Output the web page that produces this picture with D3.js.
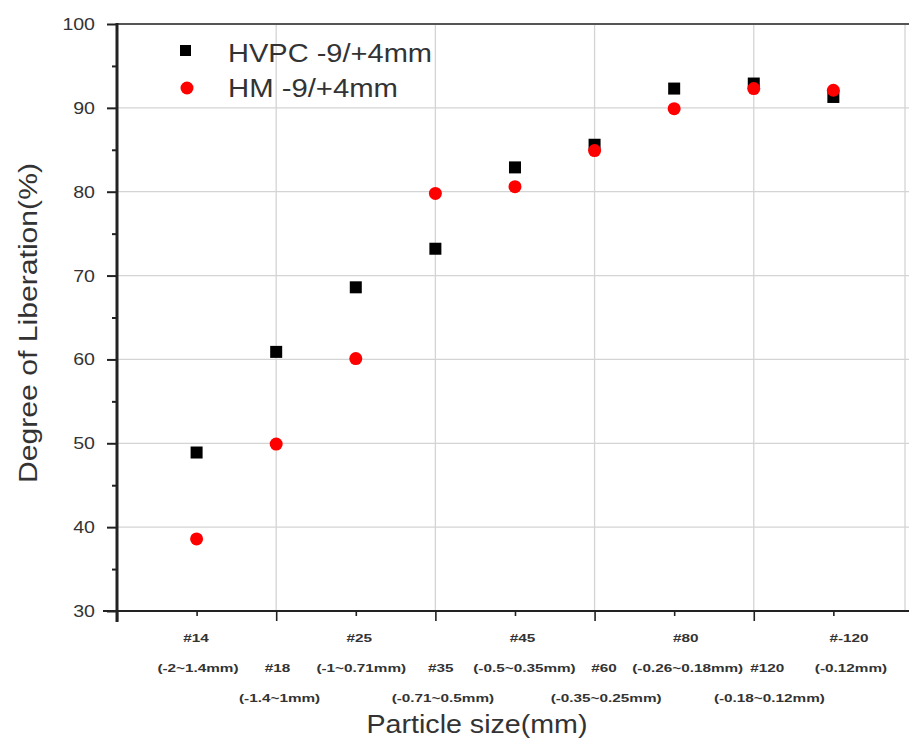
<!DOCTYPE html>
<html>
<head>
<meta charset="utf-8">
<script src="https://cdn.jsdelivr.net/npm/d3@7/dist/d3.min.js"></script>
<style>
  html, body { margin: 0; padding: 0; background: #fff; }
  svg { display: block; }
</style>
</head>
<body>
<svg id="chart" width="909" height="742"></svg>
<script>
// ---- data ----
const categories = ["#14", "#18", "#25", "#35", "#45", "#60", "#80", "#120", "#-120"];
const sizeRanges = ["(-2~1.4mm)", "(-1.4~1mm)", "(-1~0.71mm)", "(-0.71~0.5mm)", "(-0.5~0.35mm)",
                    "(-0.35~0.25mm)", "(-0.26~0.18mm)", "(-0.18~0.12mm)", "(-0.12mm)"];
const hvpc = [48.9, 60.9, 68.6, 73.2, 82.9, 85.6, 92.3, 92.9, 91.3];
const hm   = [38.6, 49.9, 60.1, 79.8, 80.6, 84.9, 89.9, 92.3, 92.1];
const seriesNames = ["HVPC -9/+4mm", "HM -9/+4mm"];
const yMajorTicks = [30, 40, 50, 60, 70, 80, 90, 100];
const yMinorTicks = [35, 45, 55, 65, 75, 85, 95];
const xMajorTicks = [0, 2, 4, 6, 8];
const xMinorTicks = [1, 3, 5, 7, 9];

// ---- layout ----
const svg = d3.select("#chart");
const L = 117, R = 905, T = 24, B = 611;
const x = d3.scaleLinear().domain([0, 9.9]).range([L, R]);
const y = d3.scaleLinear().domain([30, 100]).range([B, T]);
// category label placement scale (labels are slightly spread in the original)
const xl = d3.scaleLinear().domain([1, 9]).range([196, 849]);

const axisColor = "#222";
const gridColor = "#d4d4d4";
const textColor = "#333";
const font = "Arial, 'Liberation Sans', sans-serif";

// stretch text horizontally along its direction by factor k
function stretch(sel, k) {
  sel.each(function () {
    const w = this.getComputedTextLength();
    d3.select(this).attr("textLength", w * k).attr("lengthAdjust", "spacingAndGlyphs");
  });
}

// gridlines
svg.append("g").selectAll("line.hg").data(yMajorTicks.filter(v => v > 30 && v < 100))
  .join("line").attr("x1", L).attr("x2", 909).attr("y1", d => y(d)).attr("y2", d => y(d))
  .attr("stroke", gridColor).attr("stroke-width", 1.3);
svg.append("g").selectAll("line.vg").data(xMajorTicks.filter(v => v > 0).concat([9.9]))
  .join("line").attr("x1", d => x(d)).attr("x2", d => x(d)).attr("y1", T).attr("y2", B)
  .attr("stroke", gridColor).attr("stroke-width", 1.3);

// top frame line
svg.append("line").attr("x1", L).attr("x2", 909).attr("y1", T).attr("y2", T)
  .attr("stroke", "#555").attr("stroke-width", 2);

// y axis
const yMaj = svg.append("g").attr("transform", `translate(${L},0)`)
  .call(d3.axisLeft(y).tickValues(yMajorTicks).tickSize(10).tickPadding(12).tickFormat(d3.format("d")));
const yMin = svg.append("g").attr("transform", `translate(${L},0)`)
  .call(d3.axisLeft(y).tickValues(yMinorTicks).tickSize(5).tickFormat(""));
[yMaj, yMin].forEach(g => {
  g.select(".domain").remove();
  g.selectAll(".tick line").attr("stroke", axisColor).attr("stroke-width", 2);
});
yMaj.selectAll(".tick text").attr("fill", textColor)
  .style("font-family", font).style("font-size", "17px");
stretch(yMaj.selectAll(".tick text"), 1.15);
svg.append("line").attr("x1", L).attr("x2", L).attr("y1", T - 1).attr("y2", B + 11)
  .attr("stroke", axisColor).attr("stroke-width", 3);

// x axis
const xMaj = svg.append("g").attr("transform", `translate(0,${B})`)
  .call(d3.axisBottom(x).tickValues(xMajorTicks).tickSize(10).tickFormat(""));
const xMin = svg.append("g").attr("transform", `translate(0,${B})`)
  .call(d3.axisBottom(x).tickValues(xMinorTicks).tickSize(5).tickFormat(""));
[xMaj, xMin].forEach(g => {
  g.select(".domain").remove();
  g.selectAll(".tick line").attr("stroke", axisColor).attr("stroke-width", 1.6);
});
svg.append("line").attr("x1", 103).attr("x2", 909).attr("y1", B).attr("y2", B)
  .attr("stroke", axisColor).attr("stroke-width", 2.2);

// category labels (staggered rows like the original)
const lab = svg.append("g").attr("fill", textColor).attr("font-family", font)
  .attr("font-size", "11.5px").attr("font-weight", "bold").attr("text-anchor", "middle");
categories.forEach((c, i) => {
  const even = i % 2 === 0;
  const row1 = even ? 642 : 672;
  lab.append("text").attr("x", xl(i + 1)).attr("y", row1).text(c);
  lab.append("text").attr("x", xl(i + 1) + 2).attr("y", row1 + 30).text(sizeRanges[i]);
});
stretch(lab.selectAll("text"), 1.33);

// points
const half = 6;
svg.append("g").selectAll("rect").data(hvpc).join("rect")
  .attr("x", (d, i) => x(i + 1) - half).attr("y", d => y(d) - half)
  .attr("width", half * 2).attr("height", half * 2).attr("fill", "#000");
svg.append("g").selectAll("circle").data(hm).join("circle")
  .attr("cx", (d, i) => x(i + 1)).attr("cy", d => y(d)).attr("r", 6.5).attr("fill", "#ff0000");

// legend
const leg = svg.append("g").attr("font-family", font).attr("fill", textColor);
leg.append("rect").attr("x", 180).attr("y", 45).attr("width", 11).attr("height", 11).attr("fill", "#000");
leg.append("circle").attr("cx", 187).attr("cy", 88).attr("r", 6.5).attr("fill", "#ff0000");
leg.append("text").attr("x", 228).attr("y", 62).attr("font-size", "25px")
  .attr("textLength", 204).attr("lengthAdjust", "spacingAndGlyphs").text(seriesNames[0]);
leg.append("text").attr("x", 228).attr("y", 97).attr("font-size", "25px")
  .attr("textLength", 170).attr("lengthAdjust", "spacingAndGlyphs").text(seriesNames[1]);

// axis titles
svg.append("text").attr("transform", "translate(37,323) rotate(-90)")
  .attr("text-anchor", "middle").attr("font-family", font).attr("font-size", "25px")
  .attr("fill", textColor).attr("textLength", 320).attr("lengthAdjust", "spacingAndGlyphs")
  .text("Degree of Liberation(%)");
svg.append("text").attr("x", 477).attr("y", 733)
  .attr("text-anchor", "middle").attr("font-family", font).attr("font-size", "26px")
  .attr("fill", textColor).attr("textLength", 221).attr("lengthAdjust", "spacingAndGlyphs")
  .text("Particle size(mm)");
</script>
</body>
</html>
